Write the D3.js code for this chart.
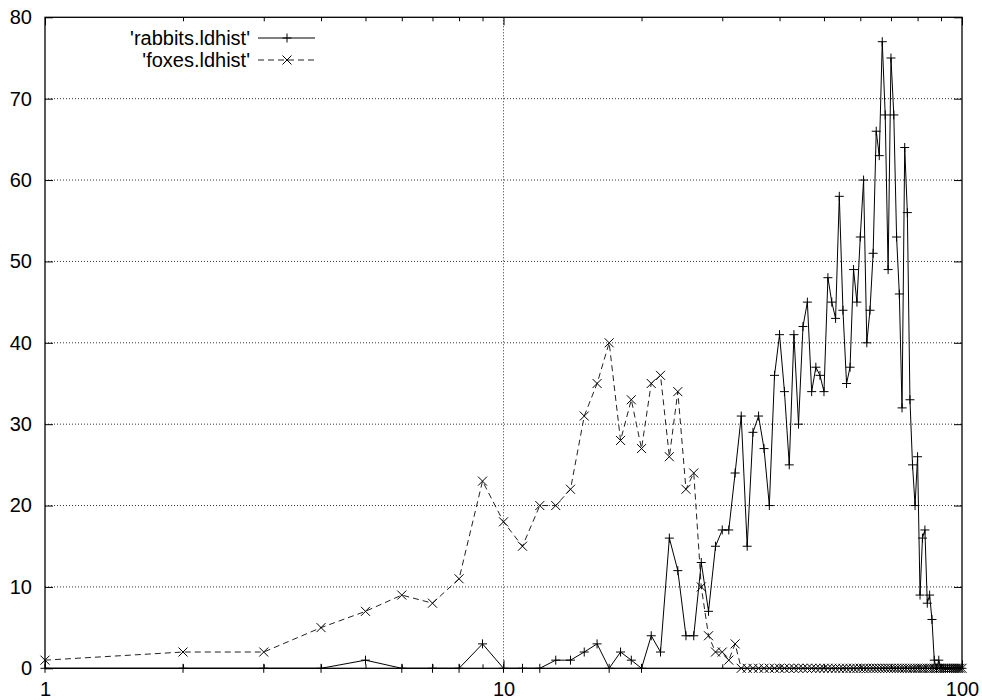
<!DOCTYPE html>
<html lang="en">
<head>
    <meta charset="UTF-8">
    <title>rabbits / foxes ldhist</title>
    <script src="https://cdnjs.cloudflare.com/ajax/libs/d3/7.8.5/d3.min.js"></script>
    <style>
        body { margin: 0; background: #fff; }
        text { font-family: "Liberation Sans", Arial, Helvetica, sans-serif; }
    </style>
</head>
<body>
    <script>
        // x values (length) - integers 1..100
        var lengths = [1,2,3,4,5,6,7,8,9,10,
            11,12,13,14,15,16,17,18,19,20,
            21,22,23,24,25,26,27,28,29,30,
            31,32,33,34,35,36,37,38,39,40,
            41,42,43,44,45,46,47,48,49,50,
            51,52,53,54,55,56,57,58,59,60,
            61,62,63,64,65,66,67,68,69,70,
            71,72,73,74,75,76,77,78,79,80,
            81,82,83,84,85,86,87,88,89,90,
            91,92,93,94,95,96,97,98,99,100];
        // counts
        var rabbits = [0,0,0,0,1,0,0,0,3,0,
            0,0,1,1,2,3,0,2,1,0,
            4,2,16,12,4,4,13,7,15,17,
            17,24,31,15,29,31,27,20,36,41,
            34,25,41,30,42,45,34,37,36,34,
            48,45,43,58,44,35,37,49,45,53,
            60,40,44,51,66,63,77,68,49,75,
            68,53,46,32,64,56,33,25,20,26,
            9,16,17,8,9,6,1,0,1,0,
            0,0,0,0,0,0,0,0,0,0];
        var foxes = [1,2,2,5,7,9,8,11,23,18,
            15,20,20,22,31,35,40,28,33,27,
            35,36,26,34,22,24,10,4,2,2,
            1,3,0,0,0,0,0,0,0,0,
            0,0,0,0,0,0,0,0,0,0,
            0,0,0,0,0,0,0,0,0,0,
            0,0,0,0,0,0,0,0,0,0,
            0,0,0,0,0,0,0,0,0,0,
            0,0,0,0,0,0,0,0,0,0,
            0,0,0,0,0,0,0,0,0,0];
        var xMajor = [1, 10, 100];
        var xMinor = [2,3,4,5,6,7,8,9,20,30,40,50,60,70,80,90];
        var yTicks = [0,10,20,30,40,50,60,70,80];

        var W = 982, H = 700;
        // plot frame (note: "top" is a reserved window property, so use pTop etc.)
        var pLeft = 45, pRight = 962, pTop = 17.3, pBottom = 668.3;

        var svg = d3.select("body").append("svg")
            .attr("width", W).attr("height", H)
            .style("background-color", "#fff");

        var x = d3.scaleLog().domain([1, 100]).range([pLeft, pRight]);
        var y = d3.scaleLinear().domain([0, 80]).range([pBottom, pTop]);

        // grid
        svg.append("g").selectAll("line")
            .data(yTicks.filter(function(d){ return d > 0 && d < 80; }))
            .enter().append("line")
            .attr("x1", pLeft).attr("x2", pRight)
            .attr("y1", function(d){ return y(d); })
            .attr("y2", function(d){ return y(d); })
            .attr("stroke", "#333").attr("stroke-width", 1)
            .attr("stroke-dasharray", "1,2");
        svg.append("g").selectAll("line")
            .data([10])
            .enter().append("line")
            .attr("y1", pTop).attr("y2", pBottom)
            .attr("x1", function(d){ return x(d); })
            .attr("x2", function(d){ return x(d); })
            .attr("stroke", "#333").attr("stroke-width", 1)
            .attr("stroke-dasharray", "1,2");

        // axes, ticks pointing inward like gnuplot
        function styleAxis(g) {
            g.select(".domain").remove();
            g.selectAll("line").attr("stroke", "#000");
            g.selectAll("text").style("font-size", "20px")
                .style("font-family", "'Liberation Sans', Arial, sans-serif")
                .attr("fill", "#000");
        }
        svg.append("g").attr("transform", "translate(0," + pBottom + ")")
            .call(d3.axisBottom(x).tickValues(xMajor).tickFormat(d3.format("d"))
                .tickSize(-8).tickPadding(14))
            .call(styleAxis);
        svg.append("g").attr("transform", "translate(0," + pBottom + ")")
            .call(d3.axisBottom(x).tickValues(xMinor).tickFormat("").tickSize(-4))
            .call(styleAxis);
        svg.append("g").attr("transform", "translate(0," + pTop + ")")
            .call(d3.axisTop(x).tickValues(xMajor).tickFormat("").tickSize(-8))
            .call(styleAxis);
        svg.append("g").attr("transform", "translate(0," + pTop + ")")
            .call(d3.axisTop(x).tickValues(xMinor).tickFormat("").tickSize(-4))
            .call(styleAxis);
        svg.append("g").attr("transform", "translate(" + pLeft + ",0)")
            .call(d3.axisLeft(y).tickValues(yTicks).tickSize(-8).tickPadding(13))
            .call(styleAxis);
        svg.append("g").attr("transform", "translate(" + pRight + ",0)")
            .call(d3.axisRight(y).tickValues(yTicks).tickFormat("").tickSize(-8))
            .call(styleAxis);

        var line = d3.line()
            .x(function(d){ return x(d[0]); })
            .y(function(d){ return y(d[1]); });

        var rabbitPts = lengths.map(function(n, i){ return [n, rabbits[i]]; });
        var foxPts = lengths.map(function(n, i){ return [n, foxes[i]]; });

        var ms = 4.5; // half size of the point symbols
        function plus(g, cx, cy) {
            g.append("path")
                .attr("d", "M" + (cx - ms) + "," + cy + "H" + (cx + ms) +
                           "M" + cx + "," + (cy - ms) + "V" + (cy + ms))
                .attr("stroke", "#000").attr("stroke-width", 1).attr("fill", "none");
        }
        function cross(g, cx, cy) {
            g.append("path")
                .attr("d", "M" + (cx - ms) + "," + (cy - ms) + "L" + (cx + ms) + "," + (cy + ms) +
                           "M" + (cx - ms) + "," + (cy + ms) + "L" + (cx + ms) + "," + (cy - ms))
                .attr("stroke", "#000").attr("stroke-width", 1).attr("fill", "none");
        }

        // foxes: dashed with x marks
        svg.append("path").datum(foxPts)
            .attr("d", line)
            .attr("fill", "none").attr("stroke", "#222")
            .attr("stroke-width", 1).attr("stroke-dasharray", "6,4");
        var fg = svg.append("g");
        foxPts.forEach(function(p){ cross(fg, x(p[0]), y(p[1])); });

        // rabbits: solid with + marks
        svg.append("path").datum(rabbitPts)
            .attr("d", line)
            .attr("fill", "none").attr("stroke", "#000").attr("stroke-width", 1);
        var rg = svg.append("g");
        rabbitPts.forEach(function(p){ plus(rg, x(p[0]), y(p[1])); });

        // border
        svg.append("rect")
            .attr("x", pLeft).attr("y", pTop)
            .attr("width", pRight - pLeft).attr("height", pBottom - pTop)
            .attr("fill", "none").attr("stroke", "#000").attr("stroke-width", 1.3);

        // legend
        var legend = [
            {name: "'rabbits.ldhist'", dash: null, mark: plus, y: 38},
            {name: "'foxes.ldhist'", dash: "6,4", mark: cross, y: 60}
        ];
        var lg = svg.append("g");
        legend.forEach(function(d){
            lg.append("text")
                .attr("x", 250).attr("y", d.y)
                .attr("dy", "0.35em")
                .attr("text-anchor", "end")
                .style("font-size", "20px")
                .text(d.name);
            lg.append("line")
                .attr("x1", 258).attr("x2", 315)
                .attr("y1", d.y).attr("y2", d.y)
                .attr("stroke", d.dash ? "#222" : "#000").attr("stroke-width", 1)
                .attr("stroke-dasharray", d.dash);
            d.mark(lg, 287, d.y);
        });
    </script>
</body>
</html>
